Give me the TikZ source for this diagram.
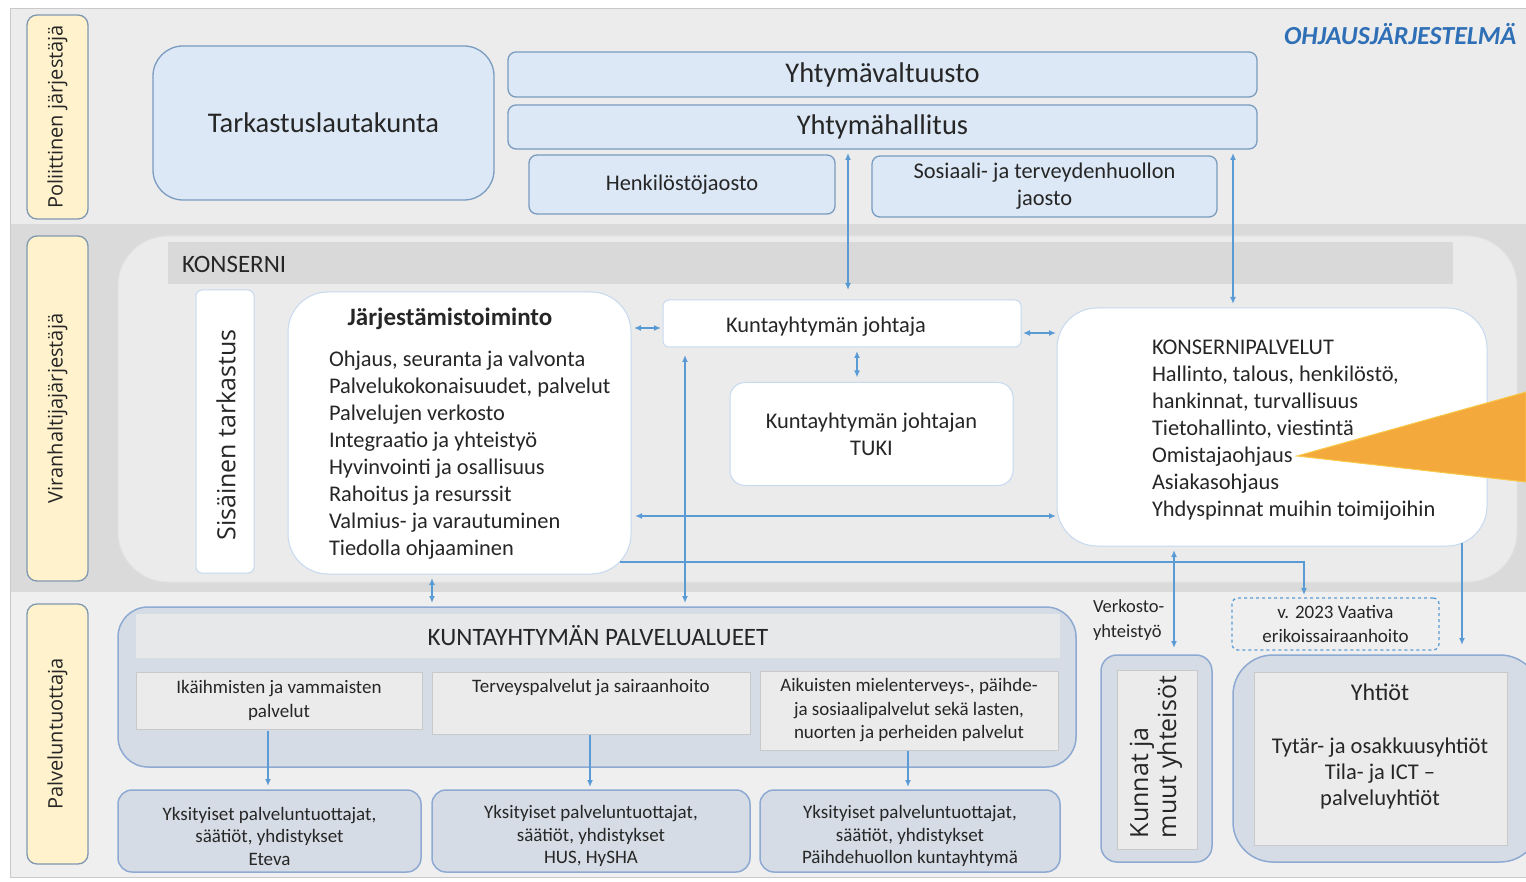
\documentclass[tikz,border=0pt]{standalone}
\usepackage{fontspec}
\setmainfont{Carlito}
\newfontfamily\osans{Open Sans}
\usetikzlibrary{arrows.meta,calc}
\definecolor{bandtop}{HTML}{ECECEC}
\definecolor{bandmid}{HTML}{DADADA}
\definecolor{bandbot}{HTML}{EFEFEF}
\definecolor{ylw}{HTML}{FFF2CC}
\definecolor{ylwb}{HTML}{7F98B0}
\definecolor{bfill}{HTML}{DCE8F5}
\definecolor{bdraw}{HTML}{7A9CC0}
\definecolor{konsfill}{HTML}{EBEBEB}
\definecolor{konsdraw}{HTML}{E2E2E2}
\definecolor{hdr}{HTML}{D9D9D9}
\definecolor{wdraw}{HTML}{C6D9EF}
\definecolor{pfill}{HTML}{D6DCE5}
\definecolor{pdraw}{HTML}{8EAAD2}
\definecolor{gfill}{HTML}{EBEBEB}
\definecolor{gdraw}{HTML}{C9C9C9}
\definecolor{hdrb}{HTML}{E7E8EA}
\definecolor{conncol}{HTML}{5B9BD5}
\definecolor{orfill}{HTML}{F4A93C}
\definecolor{oredge}{HTML}{F8C94A}
\definecolor{txt}{HTML}{262626}
\definecolor{ohjc}{HTML}{2E6FB6}
\newcommand\fsz[2]{\fontsize{#1}{#2}\selectfont}
\begin{document}
\begin{tikzpicture}[x=1pt,y=-1pt,
  >={Latex[length=7pt,width=6pt]},
  every node/.style={inner sep=0pt,outer sep=0pt,text=txt},
  ylab/.style={fill=ylw,draw=ylwb,line width=1.3pt,rounded corners=10pt,rotate=90,font={\osans\fsz{20}{24}}},
  bbox/.style={fill=bfill,draw=bdraw,line width=1.3pt,rounded corners=8pt},
  wbox/.style={fill=white,draw=wdraw,line width=1pt},
  pbox/.style={fill=pfill,draw=pdraw,line width=1.5pt},
  gbox/.style={fill=gfill,draw=gdraw,line width=0.8pt},
  dbox/.style={draw=conncol,line width=1.3pt,dashed},
  conn/.style={draw=conncol,line width=1.4pt}]
\useasboundingbox (0,0) rectangle (1526,882);
\fill[white] (0,0) rectangle (1526,882);
% bands
\fill[bandtop] (10,8) rectangle (1526,224);
\fill[bandmid] (10,224) rectangle (1526,592);
\fill[bandbot] (10,592) rectangle (1526,877);
\draw[gdraw,line width=0.8pt] (1526,8) -- (10,8) -- (10,877) -- (1526,877);
% left labels
\node[ylab,minimum width=204,minimum height=61] (pol) at (57.5,117) {Poliittinen järjestäjä};
\node[ylab,minimum width=345,minimum height=61] (vir) at (57.5,408.5) {Viranhaltijajärjestäjä};
\node[ylab,minimum width=260,minimum height=61] (pal) at (57.5,734) {Palveluntuottaja};
% political level
\node[bbox,rounded corners=30pt,minimum width=341,minimum height=154,font={\fsz{28.5}{32}}] (tark) at (323.5,123) {Tarkastuslautakunta};
\node[bbox,minimum width=749,minimum height=45,font={\fsz{28.5}{32}}] (valt) at (882.5,74.5) {Yhtymävaltuusto};
\node[bbox,minimum width=749,minimum height=44,font={\fsz{28.5}{32}}] (hall) at (882.5,127) {Yhtymähallitus};
\node[bbox,minimum width=306,minimum height=59,font={\fsz{22.4}{27}}] (henk) at (682,184.5) {Henkilöstöjaosto};
\node[bbox,minimum width=345,minimum height=61,align=center,font={\fsz{22.4}{27}}] (sos) at (1044.5,186.5) {Sosiaali- ja terveydenhuollon\\jaosto};
\node[anchor=west,text=ohjc,font={\fsz{26}{30}\bfseries\itshape}] (ohj) at (1284,34) {OHJAUSJÄRJESTELMÄ};
% konserni
\node[fill=konsfill,draw=konsdraw,line width=1pt,rounded corners=50pt,minimum width=1399,minimum height=346] (kons) at (817.5,409) {};
\node[fill=hdr,minimum width=1285,minimum height=42] (konhdr) at (810.5,263) {};
\node[anchor=west,font={\fsz{25}{28}}] (konlbl) at (182,264) {KONSERNI};
\node[wbox,rounded corners=6pt,minimum width=283,minimum height=58,rotate=90,font={\osans\fsz{25}{28}}] (sis) at (225,431.5) {};
\node[rotate=90,font={\osans\fsz{25}{28}}] (sist) at (226,435) {Sisäinen tarkastus};
\node[wbox,rounded corners=40pt,minimum width=343,minimum height=282] (jarj) at (459.5,433) {};
\node[font={\fsz{25}{28}\bfseries}] (jarjt) at (450,319) {Järjestämistoiminto};
\node[anchor=north west,align=left,font={\fsz{22.4}{27}}] (jarjl) at (329,351) {Ohjaus, seuranta ja valvonta\\Palvelukokonaisuudet, palvelut\\Palvelujen verkosto\\Integraatio ja yhteistyö\\Hyvinvointi ja osallisuus\\Rahoitus ja resurssit\\Valmius- ja varautuminen\\Tiedolla ohjaaminen};
\node[wbox,rounded corners=6pt,minimum width=358,minimum height=47] (joht) at (842,323.5) {};
\node[font={\fsz{22.4}{27}}] (johtt) at (826,327) {Kuntayhtymän johtaja};
\node[wbox,rounded corners=15pt,minimum width=283,minimum height=103,align=center,font={\fsz{22.4}{27}}] (tuki) at (871.5,434) {Kuntayhtymän johtajan\\TUKI};
\node[wbox,rounded corners=40pt,minimum width=430,minimum height=238] (konsp) at (1272,427) {};
\node[anchor=north west,align=left,font={\fsz{22.4}{27}}] (konspl) at (1152,340) {KONSERNIPALVELUT\\Hallinto, talous, henkilöstö,\\hankinnat, turvallisuus\\Tietohallinto, viestintä\\Omistajaohjaus\\Asiakasohjaus\\Yhdyspinnat muihin toimijoihin};
\coordinate (tip) at (1297,456);
\filldraw[fill=orfill,draw=oredge,line width=1pt] (tip) -- (1526,392) -- (1526,482) -- cycle;
% service level
\node[pbox,rounded corners=30pt,minimum width=958,minimum height=160] (palv) at (597,687) {};
\node[fill=hdrb,minimum width=924,minimum height=44,font={\fsz{25}{28}}] (palvh) at (598,636) {KUNTAYHTYMÄN PALVELUALUEET};
\node[gbox,minimum width=286,minimum height=57,align=center,font={\fsz{19}{24}}] (s1) at (279,700.5) {Ikäihmisten ja vammaisten\\palvelut};
\node[gbox,minimum width=318,minimum height=62] (s2) at (591,703) {};
\node[font={\fsz{19}{24}}] (s2t) at (591,688) {Terveyspalvelut ja sairaanhoito};
\node[gbox,minimum width=298,minimum height=79,align=center,font={\fsz{19}{23.5}}] (s3) at (909,710.5) {Aikuisten mielenterveys-, päihde-\\ja sosiaalipalvelut sekä lasten,\\nuorten ja perheiden palvelut};
\node[pbox,rounded corners=14pt,minimum width=303,minimum height=82] (b1) at (269.5,831) {};
\node[align=center,font={\fsz{19}{22.5}}] (b1t) at (269.5,836) {Yksityiset palveluntuottajat,\\säätiöt, yhdistykset\\Eteva};
\node[pbox,rounded corners=14pt,minimum width=318,minimum height=82] (b2) at (591,831) {};
\node[align=center,font={\fsz{19}{22.5}}] (b2t) at (591,836) {Yksityiset palveluntuottajat,\\säätiöt, yhdistykset\\HUS, HySHA};
\node[pbox,rounded corners=14pt,minimum width=300,minimum height=82] (b3) at (910,831) {};
\node[align=center,font={\fsz{19}{22.5}}] (b3t) at (910,836) {Yksityiset palveluntuottajat,\\säätiöt, yhdistykset\\Päihdehuollon kuntayhtymä};
\node[anchor=west,align=left,font={\fsz{18.5}{25}}] (verk) at (1093,620.5) {Verkosto-\\yhteistyö};
\node[pbox,rounded corners=16pt,minimum width=111,minimum height=207] (kun) at (1156.5,758.5) {};
\node[gbox,minimum width=80,minimum height=179] (kuni) at (1157,759.5) {};
\node[rotate=90,align=left,font={\osans\fsz{25}{28}}] (kunt) at (1156,757) {Kunnat ja\\muut yhteisöt};
\node[dbox,rounded corners=6pt,minimum width=207,minimum height=52,align=center,font={\fsz{19}{24}}] (vaat) at (1335.5,624) {v. 2023 Vaativa\\erikoissairaanhoito};
\node[pbox,rounded corners=40pt,minimum width=307,minimum height=207] (yht) at (1386.5,758.5) {};
\node[gbox,minimum width=253,minimum height=173] (yhti) at (1380.5,758.5) {};
\node[font={\fsz{24}{28}}] (yhtt) at (1380,692) {Yhtiöt};
\node[align=center,font={\fsz{22.5}{26}}] (yhtl) at (1380,773) {Tytär- ja osakkuusyhtiöt\\Tila- ja ICT –\\palveluyhtiöt};
% connectors
\draw[conn,<->] ($(joht.north)+(6,-10)$) -- ($(hall.south)+(-34.5,4)$);
\draw[conn,<->] ($(konsp.north)+(-39,-4)$) -- ($(hall.south)+(350.5,4)$);
\draw[conn,<->] ($(jarj.east)+(3,-105)$) -- ($(joht.west)+(-2,4.5)$);
\draw[conn,<->] ($(joht.east)+(2,9.5)$) -- ($(konsp.west)+(-1,-94)$);
\draw[conn,<->] ($(joht.south)+(15,4)$) -- ($(tuki.north)+(-14.5,-5)$);
\draw[conn,<->] ($(joht.south)+(-157,8)$) -- ($(palv.north)+(88,-4)$);
\draw[conn,<->] ($(jarj.east)+(4,83)$) -- ($(konsp.west)+(-1,89)$);
\draw[conn,->] ($(jarj.south east)+(-11,-12)$) -| ($(vaat.north)+(-31.5,-3)$);
\draw[conn,<->] ($(jarj.south)+(-27.5,4)$) -- ($(palv.north)+(-165,-4)$);
\draw[conn,<->] ($(konsp.south)+(-98,4)$) -- ($(kun.north)+(17.5,-7)$);
\draw[conn,->] ($(konsp.south)+(190,-3)$) -- ($(yht.north)+(75.5,-10)$);
\draw[conn,->] ($(s1.south)+(-11,2)$) -- ($(b1.north)+(-1.5,-4)$);
\draw[conn,->] ($(s2.south)+(-1,1)$) -- ($(b2.north)+(-1,-3)$);
\draw[conn,->] ($(s3.south)+(-1,1)$) -- ($(b3.north)+(-2,-3)$);
\end{tikzpicture}
\end{document}
